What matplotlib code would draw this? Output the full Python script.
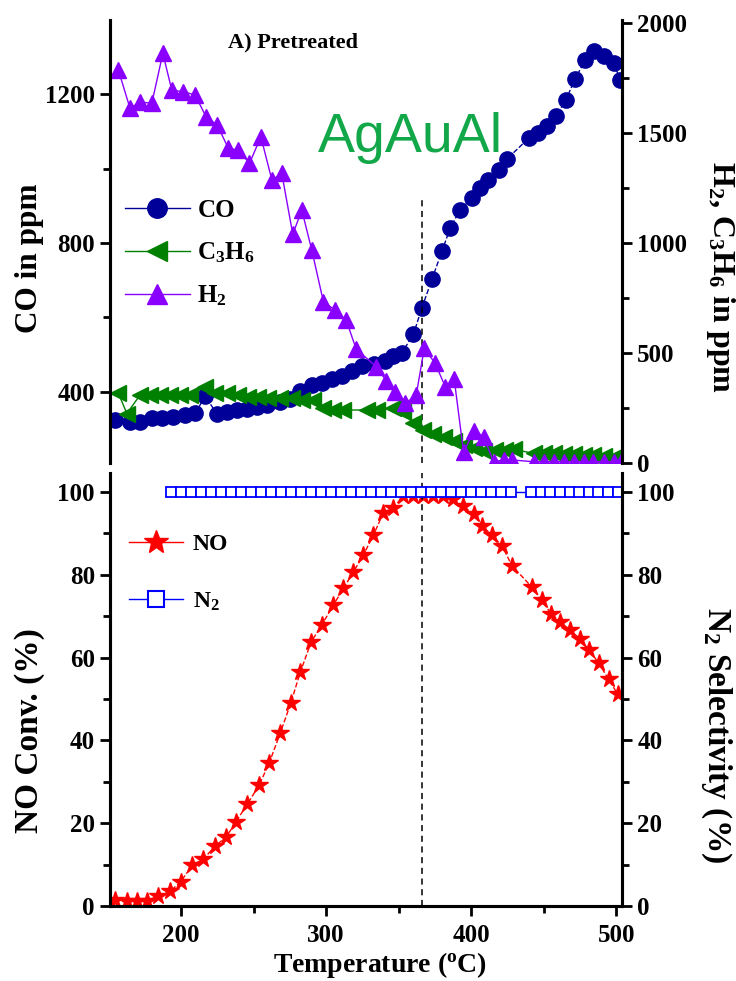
import matplotlib
matplotlib.use("Agg")
import matplotlib.pyplot as plt
from matplotlib.lines import Line2D
from matplotlib.ticker import MultipleLocator, FixedLocator

# data
co_temp = [154.5, 164.8, 171.7, 179.8, 186.7, 194.7, 202.8, 209.7, 216.6, 224.6,
           231.5, 238.4, 245.3, 252.2, 259.1, 268.3, 275.2, 282.1, 290.1, 297.0,
           303.9, 310.8, 317.7, 324.6, 332.7, 340.7, 346.4, 352.2, 360.2, 366.0,
           372.9, 379.8, 385.5, 392.4, 400.5, 406.2, 411.9, 419.5, 425.0, 439.5,
           445.7, 452.2, 458.6, 465.3, 471.7, 478.6, 484.8, 491.7, 498.1, 502.8]
co_ppm = [325, 320, 318, 329, 331, 333, 338, 343, 388, 342,
          346, 351, 355, 360, 364, 373, 382, 402, 418, 425,
          434, 443, 456, 470, 474, 483, 497, 505, 555, 626,
          702, 778, 840, 890, 920, 947, 969, 996, 1027, 1081,
          1096, 1114, 1141, 1185, 1241, 1292, 1315, 1303, 1283, 1239]

c3h6_temp = [156.8, 162.6, 171.7, 178.6, 185.5, 192.4, 199.3, 206.2, 216.6, 223.4,
             231.5, 239.5, 246.4, 253.3, 260.2, 268.3, 276.3, 283.2, 291.2, 298.1,
             305.0, 311.9, 328.0, 334.9, 346.4, 353.3, 360.2, 367.1, 374.0, 380.9,
             387.8, 394.7, 401.6, 408.5, 416.6, 423.4, 429.2, 443.0, 449.9, 456.8,
             463.7, 470.6, 477.5, 484.3, 491.2, 498.1]
c3h6_ppm = [317, 225, 309, 309, 309, 309, 309, 309, 347, 317,
            317, 309, 301, 301, 294, 294, 294, 286, 286, 249,
            241, 241, 241, 241, 249, 233, 180, 150, 130, 118,
            100, 82, 68, 55, 57, 60, 62, 44, 45, 45,
            43, 41, 37, 35, 32, 29]

h2_temp = [156.8, 164.8, 171.7, 179.8, 187.4, 193.6, 201.6, 209.7, 217.2, 225.0,
           232.6, 239.5, 247.1, 255.0, 262.6, 269.4, 277.0, 283.2, 290.1, 298.1,
           306.2, 313.8, 320.7, 334.5, 341.4, 347.6, 354.5, 362.1, 367.6, 375.2,
           382.1, 388.3, 394.7, 402.1, 408.5, 415.4, 422.3, 428.1, 443.0, 449.9,
           456.8, 463.7, 470.6, 477.5, 484.3, 491.2, 498.1, 503.4]
h2_ppm = [1786, 1612, 1642, 1635, 1862, 1695, 1688, 1673, 1574, 1536,
          1430, 1423, 1362, 1483, 1286, 1317, 1040, 1150, 968, 733,
          695, 650, 518, 438, 374, 324, 271, 309, 521, 453,
          347, 380, 51, 146, 120, 6, 14, 14, 6, 6,
          6, 6, 6, 6, 6, 6, 6, 6]

no_temp = [154.5, 162.6, 169.4, 176.3, 184.3, 192.4, 199.8, 207.8, 215.4, 223.4,
           231.0, 237.9, 245.7, 253.8, 260.7, 268.3, 275.7, 282.1, 289.7, 297.0,
           305.0, 311.9, 318.8, 325.7, 332.6, 339.5, 346.4, 353.1, 360.0, 366.9,
           373.8, 380.7, 387.6, 394.1, 401.6, 407.4, 414.3, 421.2, 428.1, 441.9,
           448.8, 455.0, 461.4, 468.3, 474.7, 481.4, 487.8, 494.7, 500.9]
no_conv = [1.4, 1.3, 1.3, 1.3, 2.4, 3.5, 5.9, 9.9, 11.3, 14.5,
           16.6, 20.4, 24.6, 29.2, 34.5, 41.7, 49.1, 56.4, 63.8, 67.9,
           72.7, 76.7, 80.7, 84.8, 89.6, 95.0, 96.2, 99, 99, 99,
           99, 99, 98.2, 96.5, 94.8, 91.8, 89.6, 87.0, 82.2, 77.0,
           73.8, 70.6, 68.6, 66.6, 64.6, 61.8, 58.7, 54.8, 51.2]

n2_temp = [192.8, 199.7, 206.6, 213.4, 220.3, 227.2, 234.1, 241.0, 247.9, 254.8,
           261.7, 268.6, 275.5, 282.4, 289.3, 296.2, 303.1, 310.0, 316.9, 323.8,
           330.7, 337.6, 344.5, 351.4, 358.3, 365.2, 372.1, 379.0, 385.9, 392.8,
           399.7, 406.6, 413.4, 420.3, 427.2, 441.4, 448.0, 454.6, 461.2, 467.8,
           474.5, 481.1, 487.7, 494.3, 500.9]
n2_sel = [100] * len(n2_temp)

t_mark = 366

plt.rcParams['font.family'] = ['Liberation Serif', 'DejaVu Serif']
plt.rcParams['font.weight'] = 'bold'
plt.rcParams['mathtext.fontset'] = 'custom'
plt.rcParams['mathtext.rm'] = 'Liberation Serif:bold'
plt.rcParams['mathtext.it'] = 'Liberation Serif:bold'
plt.rcParams['mathtext.bf'] = 'Liberation Serif:bold'
plt.rcParams['axes.linewidth'] = 2.2

c_co, c_c3, c_h2 = '#000099', '#008000', '#8A00FF'
c_no, c_n2 = '#FF0000', '#0000FF'

fig = plt.figure(figsize=(7.36, 9.81), dpi=100)

ax1 = fig.add_axes([0.1495, 0.528, 0.6957, 0.4516])
ax1r = ax1.twinx()
ax2 = fig.add_axes([0.1495, 0.0765, 0.6957, 0.4414])
ax2r = ax2.twinx()

# top panel
ax1.plot(co_temp, co_ppm, ls='--', lw=1, color=c_co, marker='o', ms=11, mec=c_co)
ax1r.plot(c3h6_temp, c3h6_ppm, ls='-', lw=1, color=c_c3, marker='<', ms=12, mec=c_c3)
ax1r.plot(h2_temp, h2_ppm, ls='-', lw=1, color=c_h2, marker='^', ms=11.5, mec=c_h2)

ax1.axvline(t_mark, ymin=0, ymax=0.593, color='black', lw=1.1, ls=(0, (4, 3)))

ax1.set_xlim(151, 504)
ax1.set_ylim(209, 1399)
ax1r.set_ylim(0, 2014)
ax1.set_xticks([])
ax1.yaxis.set_major_locator(FixedLocator([400, 800, 1200]))
ax1.yaxis.set_minor_locator(FixedLocator([600, 1000, 1400]))
ax1r.yaxis.set_major_locator(MultipleLocator(500))
ax1r.yaxis.set_minor_locator(MultipleLocator(250))

for a in (ax1, ax1r):
    a.spines['top'].set_visible(False)
    a.spines['bottom'].set_visible(False)

top_handles = [
    Line2D([], [], color=c_co, lw=1, marker='o', ms=14, label='CO'),
    Line2D([], [], color=c_c3, lw=1, marker='<', ms=15, label='C$_3$H$_6$'),
    Line2D([], [], color=c_h2, lw=1, marker='^', ms=15, label='H$_2$'),
]
ax1r.legend(handles=top_handles, loc='upper left', bbox_to_anchor=(0.029, 0.597),
            frameon=False, fontsize=18, handlelength=2.6, handletextpad=0.3,
            labelspacing=0.75, borderpad=0, borderaxespad=0)

# bottom panel
ax2.plot(no_temp, no_conv, ls='--', lw=1, color=c_no, marker='*', ms=13, mec=c_no)
ax2r.plot(n2_temp, n2_sel, ls='-', lw=1, color=c_n2, marker='s', ms=7.5,
          mfc='white', mec=c_n2, mew=1.3)

ax2.axvline(t_mark, color='black', lw=1.1, ls=(0, (4, 3)))

ax2.set_xlim(151, 504)
ax2.set_ylim(0, 104.6)
ax2r.set_ylim(0, 104.6)
ax2.xaxis.set_major_locator(MultipleLocator(100))
ax2.xaxis.set_minor_locator(MultipleLocator(50))
for a in (ax2, ax2r):
    a.yaxis.set_major_locator(MultipleLocator(20))
    a.yaxis.set_minor_locator(MultipleLocator(10))
    a.spines['top'].set_visible(False)

bot_handles = [
    Line2D([], [], color=c_no, lw=1, marker='*', ms=18, label='NO'),
    Line2D([], [], color=c_n2, lw=1, marker='s', ms=12, mfc='white', mec=c_n2,
           mew=1.5, label='N$_2$'),
]
ax2r.legend(handles=bot_handles, loc='upper left', bbox_to_anchor=(0.037, 0.86),
            frameon=False, fontsize=17, handlelength=2.3, handletextpad=0.4,
            labelspacing=1.5, borderpad=0, borderaxespad=0)

for a in (ax1, ax1r, ax2, ax2r):
    a.tick_params(which='major', direction='out', length=7, width=2, labelsize=18, pad=4)
    a.tick_params(which='minor', direction='out', length=5, width=2)
ax2.tick_params(axis='x', pad=6)

# labels
fig.text(30 / 736, 1 - 258 / 981, 'CO in ppm', rotation=90, ha='center', va='center',
         fontsize=22.5, fontweight='bold')
fig.text(721 / 736, 1 - 277 / 981, 'H$_2$, C$_3$H$_6$ in ppm', rotation=270,
         ha='center', va='center', fontsize=23, fontweight='bold')
fig.text(30 / 736, 1 - 731 / 981, 'NO Conv. (%)', rotation=90, ha='center', va='center',
         fontsize=24, fontweight='bold')
fig.text(716 / 736, 1 - 735 / 981, 'N$_2$ Selectivity (%)', rotation=270,
         ha='center', va='center', fontsize=24, fontweight='bold')
fig.text(380 / 736, 1 - 965 / 981, 'Temperature ($^\\mathrm{o}$C)', ha='center',
         va='center', fontsize=20, fontweight='bold')
fig.text(293 / 736, 1 - 42 / 981, 'A) Pretreated', ha='center', va='center',
         fontsize=16, fontweight='bold')
fig.text(410 / 736, 1 - 138 / 981, 'AgAuAl', ha='center', va='center', fontsize=40,
         fontweight='normal', family='Liberation Sans', color='#12A84A')

fig.savefig('out.png', dpi=100)
